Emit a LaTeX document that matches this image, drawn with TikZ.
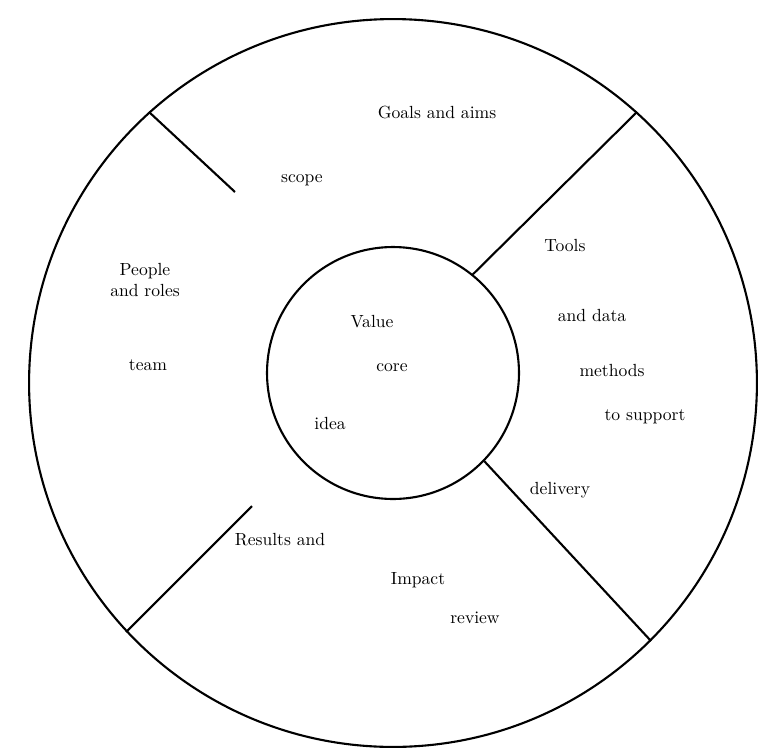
\documentclass[tikz,border=0pt]{standalone}
\usepackage{tikz}
\usetikzlibrary{positioning}
\tikzstyle{ring}    = [circle, draw, line width=1.2pt, inner sep=0pt]
\tikzstyle{divider} = [line width=1.2pt]
\tikzstyle{txt}     = [font=\normalsize, align=center, inner sep=1pt]

\begin{document}
\begin{tikzpicture}[x=0.02cm, y=-0.02cm]
\useasboundingbox (0,0) rectangle (761,754);
\node (outer) [ring, minimum size=14.56cm] at (393,383) {};
\node (core) [ring, minimum size=5.04cm] at (393,373) {};
\coordinate (tl end) at (235,192);
\coordinate (bl end) at (252,506);
% sector text
\node (top a) [txt] at (437,112) {Goals and aims};
\node (top b) [txt] at (302,180) {scope};
\node (left a) [txt] at (145,280) {People\\and roles};
\node (left b) [txt] at (148,365) {team};
\node (core a) [txt] at (372,322) {Value};
\node (core b) [txt] at (392,368) {core};
\node (core c) [txt] at (330,423) {idea};
\node (right a) [txt] at (565,245) {Tools};
\node (right b) [txt] at (592,315) {and data};
\node (right c) [txt] at (612,370) {methods};
\node (right d) [txt] at (645,417) {to support};
\node (right e) [txt] at (560,490) {delivery};
\node (bottom a) [txt] at (280,540) {Results and};
\node (bottom b) [txt] at (418,580) {Impact};
\node (bottom c) [txt] at (475,618) {review};
% dividers
\draw [divider] (outer.132) -- (tl end);
\draw [divider] (outer.223) -- (bl end);
\draw [divider] (core.51) -- (outer.48);
\draw [divider] (core.-44) -- (outer.-45);
\end{tikzpicture}
\end{document}
